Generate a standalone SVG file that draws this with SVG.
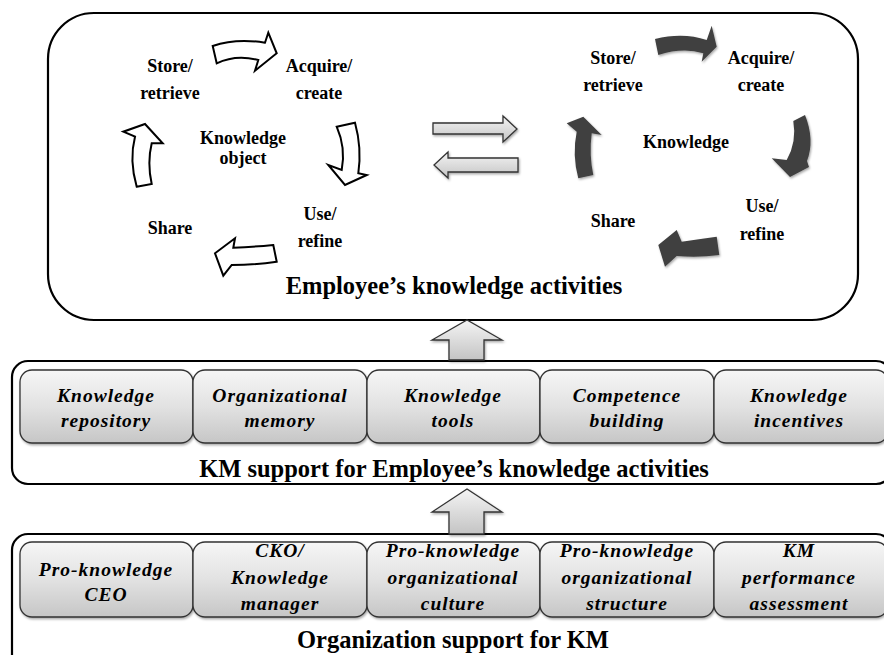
<svg xmlns="http://www.w3.org/2000/svg" width="884" height="655" viewBox="0 0 884 655">
<defs>
<linearGradient id="gbox" x1="0" y1="0" x2="0" y2="1">
<stop offset="0" stop-color="#f6f6f6"/>
<stop offset="0.5" stop-color="#e2e2e2"/>
<stop offset="1" stop-color="#c6c6c6"/>
</linearGradient>
<linearGradient id="garr" x1="0" y1="0" x2="0" y2="1">
<stop offset="0" stop-color="#f4f4f4"/>
<stop offset="1" stop-color="#c4c4c4"/>
</linearGradient>
<filter id="sh" x="-10%" y="-10%" width="130%" height="130%">
<feDropShadow dx="1" dy="1.5" stdDeviation="1.2" flood-color="#000" flood-opacity="0.35"/>
</filter>
</defs>
<style>
.outer{fill:#fff;stroke:#000;stroke-width:2.2}
.cell{fill:url(#gbox);stroke:#333;stroke-width:1.3;filter:url(#sh)}
.cellt{font-family:"Liberation Serif","Times New Roman",serif;font-size:19.5px;font-weight:bold;font-style:italic;letter-spacing:1px;text-anchor:middle;fill:#000}
.title{font-family:"Liberation Serif","Times New Roman",serif;font-size:24.5px;font-weight:bold;text-anchor:middle;fill:#000}
.lbl{font-family:"Liberation Serif","Times New Roman",serif;font-size:18px;font-weight:bold;text-anchor:middle;fill:#000}
.hollow{fill:#fff;stroke:#000;stroke-width:2;stroke-linejoin:miter}
.dark{fill:#404040;stroke:none;filter:url(#sh)}
.gray{fill:url(#garr);stroke:#333;stroke-width:1.3;filter:url(#sh)}
</style>

<g id="employee-activities">
<rect class="outer" x="48" y="13" width="810" height="307" rx="46" ry="46"/>
<text class="title" x="454" y="294">Employee’s knowledge activities</text>
</g>

<g id="km-support">
<rect class="outer" x="12" y="361" width="880" height="123" rx="16" ry="16"/>
<text class="title" x="454" y="477">KM support for Employee’s knowledge activities</text>
</g>

<g id="org-support">
<rect class="outer" x="12" y="534" width="880" height="140" rx="16" ry="16"/>
<text class="title" x="453" y="648">Organization support for KM</text>
</g>

<g id="knowledge-repository">
<rect class="cell" x="20" y="370" width="173" height="73" rx="12"/>
<text class="cellt" x="106" y="402">Knowledge</text>
<text class="cellt" x="106" y="427">repository</text>
</g>
<g id="organizational-memory">
<rect class="cell" x="193" y="370" width="174" height="73" rx="12"/>
<text class="cellt" x="280" y="402">Organizational</text>
<text class="cellt" x="280" y="427">memory</text>
</g>
<g id="knowledge-tools">
<rect class="cell" x="367" y="370" width="173" height="73" rx="12"/>
<text class="cellt" x="453" y="402">Knowledge</text>
<text class="cellt" x="453" y="427">tools</text>
</g>
<g id="competence-building">
<rect class="cell" x="540" y="370" width="174" height="73" rx="12"/>
<text class="cellt" x="627" y="402">Competence</text>
<text class="cellt" x="627" y="427">building</text>
</g>
<g id="knowledge-incentives">
<rect class="cell" x="714" y="370" width="174" height="73" rx="12"/>
<text class="cellt" x="799" y="402">Knowledge</text>
<text class="cellt" x="799" y="427">incentives</text>
</g>

<g id="pro-knowledge-ceo">
<rect class="cell" x="20" y="542" width="173" height="75" rx="12"/>
<text class="cellt" x="106" y="576">Pro-knowledge</text>
<text class="cellt" x="106" y="601">CEO</text>
</g>
<g id="cko-knowledge-manager">
<rect class="cell" x="193" y="542" width="174" height="75" rx="12"/>
<text class="cellt" x="280" y="557">CKO/</text>
<text class="cellt" x="280" y="584">Knowledge</text>
<text class="cellt" x="280" y="610">manager</text>
</g>
<g id="pro-knowledge-culture">
<rect class="cell" x="367" y="542" width="173" height="75" rx="12"/>
<text class="cellt" x="453" y="557">Pro-knowledge</text>
<text class="cellt" x="453" y="584">organizational</text>
<text class="cellt" x="453" y="610">culture</text>
</g>
<g id="pro-knowledge-structure">
<rect class="cell" x="540" y="542" width="174" height="75" rx="12"/>
<text class="cellt" x="627" y="557">Pro-knowledge</text>
<text class="cellt" x="627" y="584">organizational</text>
<text class="cellt" x="627" y="610">structure</text>
</g>
<g id="km-performance-assessment">
<rect class="cell" x="714" y="542" width="174" height="75" rx="12"/>
<text class="cellt" x="799" y="557">KM</text>
<text class="cellt" x="799" y="584">performance</text>
<text class="cellt" x="799" y="610">assessment</text>
</g>

<g id="cycle-left-labels">
<text class="lbl" x="170" y="72">Store/</text>
<text class="lbl" x="170" y="99">retrieve</text>
<text class="lbl" x="319" y="72">Acquire/</text>
<text class="lbl" x="319" y="99">create</text>
<text class="lbl" x="243" y="144">Knowledge</text>
<text class="lbl" x="243" y="164">object</text>
<text class="lbl" x="320" y="220">Use/</text>
<text class="lbl" x="320" y="247">refine</text>
<text class="lbl" x="170" y="234">Share</text>
</g>

<g id="cycle-right-labels">
<text class="lbl" x="613" y="64">Store/</text>
<text class="lbl" x="613" y="91">retrieve</text>
<text class="lbl" x="761" y="64">Acquire/</text>
<text class="lbl" x="761" y="91">create</text>
<text class="lbl" x="686" y="148">Knowledge</text>
<text class="lbl" x="762" y="212">Use/</text>
<text class="lbl" x="762" y="240">refine</text>
<text class="lbl" x="613" y="227">Share</text>
</g>

<g id="connectors">
<!-- left hollow cycle -->
<path class="hollow" d="M212.7,46 Q236,38 265,42.7 L268.3,32.7 L276.7,53.3 L255,70.7 L258.3,60 Q236,54 216.7,63.3 Z"/>
<path class="hollow" d="M336.7,126.7 L355,122.7 Q362,148 358.3,173.3 L366.7,175 L345,185 L328.3,165 L341.7,170 Q346,148 336.7,126.7 Z"/>
<path class="hollow" d="M273.3,245 Q253,247 233.3,247.7 L235,238.3 L215,253.3 L223.3,275.7 L231.7,265 Q255,265 276.7,261.7 Z"/>
<path class="hollow" d="M136.7,186.7 L151.7,184 Q147,163 151.7,143.3 L162.7,143.3 L145,124 L123.3,131.7 L135,136.7 Q129,160 136.7,186.7 Z"/>
<!-- right dark cycle -->
<path class="dark" d="M655,39 Q683,32 706.7,40 L711.7,25.7 L716.7,46.7 L701.7,61.7 L703.3,53.3 Q683,47 658.3,55 Z"/>
<path class="dark" d="M793.3,121 L805,115 Q815,140 807,161 L809,167 L790,177 L771.7,158.3 L786.7,160 Q797,142 793.3,121 Z"/>
<path class="dark" d="M716.7,236.7 Q700,239 681.7,241.7 L676.7,230 L658.3,245 L665,266.7 L676.7,256 Q698,258 719.3,255 Z"/>
<path class="dark" d="M578.3,178.3 L593.3,175 Q589,155 591.7,133.3 L601.7,135 L583.3,116.7 L566.7,123.3 L576.7,131.7 Q572,155 578.3,178.3 Z"/>
<!-- double arrows -->
<path class="gray" d="M433,123 L503,123 L503,116 L517,129 L503,142 L503,134 L433,134 Z"/>
<path class="gray" d="M518,158 L448,158 L448,152 L434,165 L448,178 L448,172 L518,172 Z"/>
<!-- up arrows -->
<path class="gray" d="M449,360 L449,340 L432,340 L467,320 L502,340 L484,340 L484,360 Z"/>
<path class="gray" d="M449,534 L449,512 L432,512 L467,489 L502,512 L484,512 L484,534 Z"/>
</g>
</svg>
